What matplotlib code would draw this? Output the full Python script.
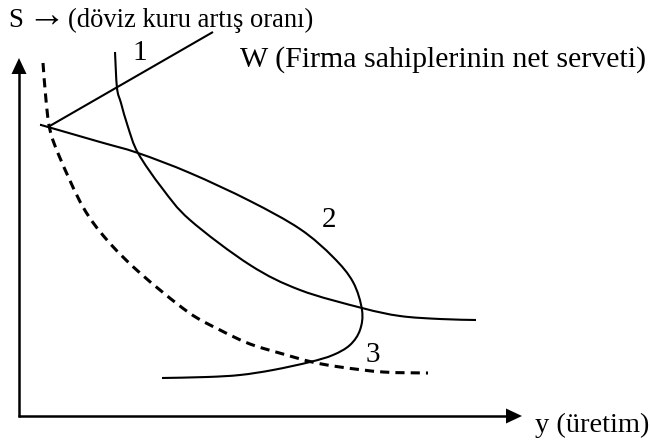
import numpy as np
import matplotlib
matplotlib.use("Agg")
import matplotlib.pyplot as plt
from matplotlib.path import Path
from matplotlib.patches import PathPatch

# ---- diagram data (pixel-space coordinates of the sketch, y downward) ----
curve1_x = [115, 117, 121, 128, 138, 162, 190, 250, 300, 362, 400, 440, 476]
curve1_y = [52, 88, 103, 127, 153, 188, 220, 265, 290, 308, 316, 319, 320]

curve2_x = [41, 48, 100, 138, 190, 250, 300, 333, 353, 362, 360, 350, 333, 310, 273, 240, 207, 162]
curve2_y = [125, 127, 142, 153, 173, 201, 229, 257, 282, 310, 330, 345, 355, 362, 370, 375, 377, 378]

curve3_x = [43, 46, 50, 60, 83, 107, 140, 188, 220, 250, 283, 312, 340, 383, 428]
curve3_y = [63, 100, 130, 158, 207, 240, 273, 312, 330, 344, 354, 362, 367, 372, 373]

ray_x = [48, 213]
ray_y = [127, 32]

labels = ["1", "2", "3"]
label_x = [140, 329, 373]
label_y = [53, 220, 355]

y_title_S = "S"
y_title_arrow = "\u2192"
y_title_text = "(döviz kuru artış oranı)"
w_text = "W (Firma sahiplerinin net serveti)"
x_title = "y (üretim)"

W, H = 650, 444
fig = plt.figure(figsize=(W / 100, H / 100), dpi=100)
ax = fig.add_axes([0, 0, 1, 1])
ax.set_xlim(0, W)
ax.set_ylim(H, 0)
ax.axis("off")

SERIF = ["Liberation Serif", "DejaVu Serif"]


def smooth_path(xs, ys):
    pts = np.column_stack([xs, ys]).astype(float)
    n = len(pts)
    verts = [pts[0]]
    codes = [Path.MOVETO]
    for i in range(n - 1):
        p0 = pts[i - 1] if i > 0 else pts[i]
        p1 = pts[i]
        p2 = pts[i + 1]
        p3 = pts[i + 2] if i + 2 < n else pts[i + 1]
        c1 = p1 + (p2 - p0) / 6.0
        c2 = p2 - (p3 - p1) / 6.0
        verts += [c1, c2, p2]
        codes += [Path.CURVE4] * 3
    return Path(verts, codes)


lw_curve = 1.5
ax.add_patch(PathPatch(smooth_path(curve1_x, curve1_y), fill=False, lw=lw_curve, color="black", capstyle="butt"))
ax.add_patch(PathPatch(smooth_path(curve2_x, curve2_y), fill=False, lw=lw_curve, color="black", capstyle="butt"))
ax.add_patch(PathPatch(smooth_path(curve3_x, curve3_y), fill=False, lw=2.2, color="black",
                       linestyle=(0, (3.0, 2.0)), capstyle="butt"))
ax.plot(ray_x, ray_y, color="black", lw=lw_curve, solid_capstyle="butt")

# axes with arrows
ax.plot([19, 19], [417, 72], color="black", lw=1.8, solid_capstyle="butt")
ax.plot([18, 508], [416, 416], color="black", lw=1.8, solid_capstyle="butt")
ax.add_patch(plt.Polygon([[19, 58], [11.5, 74], [26.5, 74]], closed=True, color="black", lw=0))
ax.add_patch(plt.Polygon([[522, 416], [506, 408.5], [506, 423.5]], closed=True, color="black", lw=0))

renderer = fig.canvas.get_renderer()


def fit_text(s, x_left, x_right, y_base, ref=20):
    t = ax.text(x_left, y_base, s, fontsize=ref, family=SERIF, ha="left", va="baseline")
    w = t.get_window_extent(renderer).width
    t.set_fontsize(ref * (x_right - x_left) / w)
    return t


fit_text(y_title_S, 8, 23, 27)
fit_text(y_title_arrow, 27, 65, 26)
fit_text(y_title_text, 68, 313, 27)
fit_text(w_text, 240, 647, 67)
fit_text(x_title, 535, 650, 432)

for s, x, y in zip(labels, label_x, label_y):
    ax.text(x, y, s, fontsize=21, family=SERIF, ha="center", va="center")

fig.savefig("out.png", dpi=100)
